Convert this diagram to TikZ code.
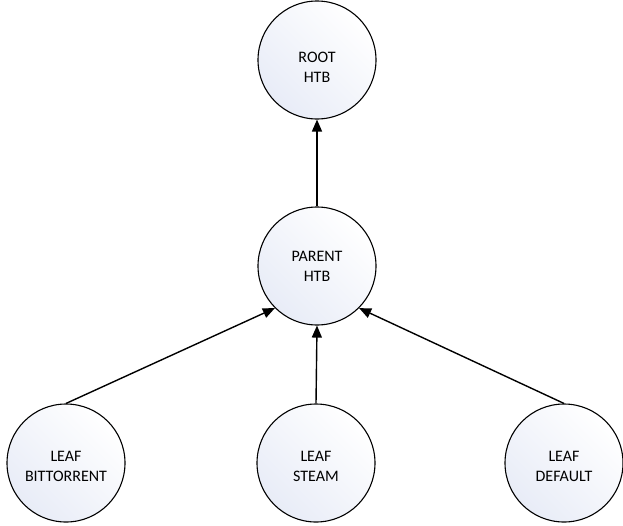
\documentclass[tikz,border=0pt]{standalone}
\usepackage{fontspec}
\setmainfont{Carlito}
\usetikzlibrary{arrows.meta}
\newcommand{\twoline}[3]{\raisebox{-#1}[0pt][0pt]{\begin{tabular}{@{}c@{}}#2\\#3\end{tabular}}}
\begin{document}
\begin{tikzpicture}[x=1pt,y=-1pt,
  nd/.style={circle, draw=black, line width=1.1pt, minimum size=118pt, inner sep=0pt,
    shading=axis, left color=white, right color={rgb,255:red,232;green,236;blue,247}, shading angle=-45,
    font=\fontsize{16}{20}\selectfont},
  conn/.style={line width=1.4pt, -{Triangle[length=12pt,width=10pt]}}]
\useasboundingbox (0,0) rectangle (623,525);
\node[nd] (root) at (317,60) {\twoline{13pt}{ROOT}{HTB}};
\node[nd] (parent) at (317,266) {\twoline{6pt}{PARENT}{HTB}};
\node[nd] (bt) at (66,463) {\twoline{9pt}{LEAF}{BITTORRENT}};
\node[nd] (steam) at (316,463) {\twoline{9pt}{LEAF}{STEAM}};
\node[nd] (def) at (564,463) {\twoline{9pt}{LEAF}{DEFAULT}};
\draw[conn] (parent.north) -- (root.south);
\draw[conn] (bt.north) -- (parent.south west);
\draw[conn] (steam.north) -- (parent.south);
\draw[conn] (def.north) -- (parent.south east);
\end{tikzpicture}
\end{document}
